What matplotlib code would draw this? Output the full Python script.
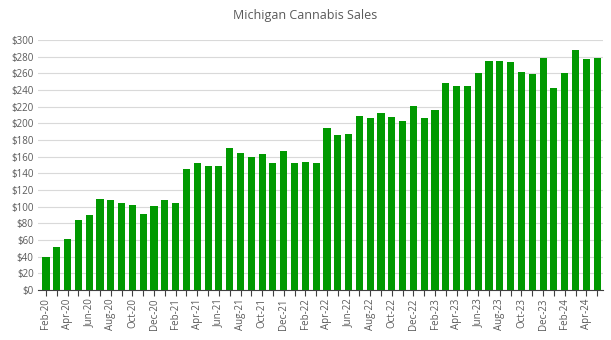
import numpy as np
import matplotlib.pyplot as plt

# monthly sales, $ millions
months = ['Feb-20', 'Mar-20', 'Apr-20', 'May-20', 'Jun-20', 'Jul-20', 'Aug-20', 'Sep-20', 'Oct-20', 'Nov-20', 'Dec-20',
          'Jan-21', 'Feb-21', 'Mar-21', 'Apr-21', 'May-21', 'Jun-21', 'Jul-21', 'Aug-21', 'Sep-21', 'Oct-21', 'Nov-21', 'Dec-21',
          'Jan-22', 'Feb-22', 'Mar-22', 'Apr-22', 'May-22', 'Jun-22', 'Jul-22', 'Aug-22', 'Sep-22', 'Oct-22', 'Nov-22', 'Dec-22',
          'Jan-23', 'Feb-23', 'Mar-23', 'Apr-23', 'May-23', 'Jun-23', 'Jul-23', 'Aug-23', 'Sep-23', 'Oct-23', 'Nov-23', 'Dec-23',
          'Jan-24', 'Feb-24', 'Mar-24', 'Apr-24', 'May-24']
sales = [40, 52, 61, 84, 90, 109, 108, 105, 102, 91, 101,
         108, 104, 145, 153, 149, 149, 171, 165, 160, 163, 152, 167,
         152, 154, 153, 194, 186, 187, 209, 207, 212, 208, 203, 221,
         206, 216, 249, 245, 245, 260, 275, 275, 274, 262, 259, 278,
         242, 260, 288, 277, 278]
y_ticks = np.arange(0, 301, 20)

plt.rcParams['font.family'] = ['Open Sans', 'DejaVu Sans']

fig = plt.figure(figsize=(6.11, 3.40), dpi=100)
ax = fig.add_axes([0.062, 0.147, 0.925, 0.735])

x = np.arange(len(months))
ax.bar(x, sales, width=0.66, color='#009900', zorder=3)

ax.set_xlim(-0.75, len(months) - 0.45)
ax.set_ylim(0, 300)
ax.set_yticks(y_ticks)
ax.set_yticklabels(['$%d' % v for v in y_ticks], fontsize=7, color='#595959')
ax.tick_params(axis='y', length=0, pad=3)

ax.set_xticks(x)
ax.set_xticklabels([m if i % 2 == 0 else '' for i, m in enumerate(months)],
                   rotation=90, fontsize=7, color='#595959')
ax.tick_params(axis='x', length=4, width=0.8, color='#404040', pad=2)

ax.grid(axis='y', color='#d9d9d9', linewidth=0.8, zorder=0)
for s in ['top', 'right', 'left']:
    ax.spines[s].set_visible(False)
ax.spines['bottom'].set_color('#404040')
ax.spines['bottom'].set_linewidth(0.8)

fig.text(0.5, 0.955, 'Michigan Cannabis Sales', ha='center', va='center', fontsize=9, color='#595959')

fig.savefig('out.png', dpi=100)
